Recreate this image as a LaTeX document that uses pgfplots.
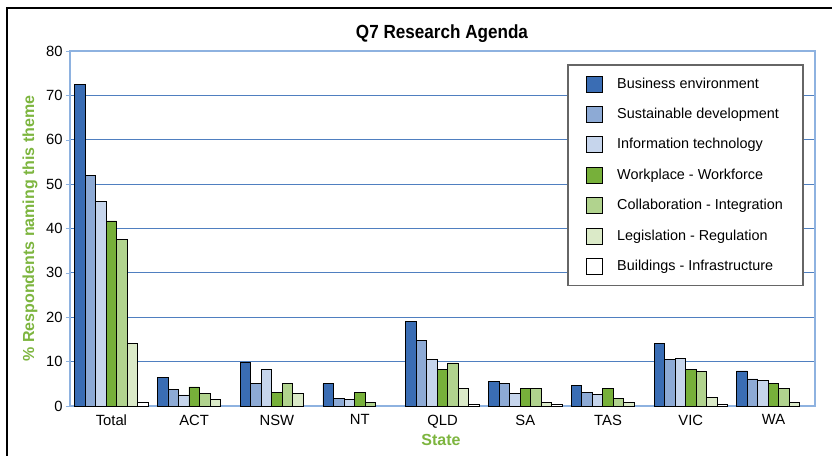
\documentclass[border=0pt]{standalone}
\usepackage{pgfplots}
\pgfplotsset{compat=1.18}
\usepackage{fontspec}
\setmainfont{Liberation Sans}
\newfontfamily\titlefont{Liberation Sans}[FakeStretch=0.9]
\definecolor{c1}{HTML}{3A6DB4}
\definecolor{c2}{HTML}{8DAAD5}
\definecolor{c3}{HTML}{C6D5EC}
\definecolor{c4}{HTML}{77B03A}
\definecolor{c5}{HTML}{B1D38E}
\definecolor{c6}{HTML}{DBEAC8}
\definecolor{c7}{HTML}{FFFFFF}
\definecolor{gridblue}{HTML}{4F7FC0}
\definecolor{axlight}{HTML}{8EB2E0}
\definecolor{labgreen}{HTML}{7DB53F}
\begin{document}
\begin{tikzpicture}
\useasboundingbox (0pt,0pt) rectangle (416pt,228pt);
\draw[line width=1pt] (3.5pt,-2pt) -- (3.5pt,224pt) -- (418pt,224pt);
\node[font=\titlefont\bfseries\fontsize{9.5}{11}\selectfont] at (221pt,211pt) {Q7 Research Agenda};
\begin{axis}[
  at={(35pt,25pt)}, anchor=south west,
  scale only axis, width=372.5pt, height=177.5pt,
  ybar=0pt, bar width=5.25pt,
  xmin=-0.5, xmax=8.5, ymin=0, ymax=80,
  xtick={0,...,8},
  xticklabels={Total,ACT,NSW,NT,QLD,SA,TAS,VIC,WA},
  ytick={0,10,...,80},
  ymajorgrids, grid style={gridblue, line width=0.6pt},
  axis line style={axlight, line width=0.8pt},
  major x tick style={draw=none},
  major y tick style={axlight},
  tick align=outside, major tick length=2pt,
  xtick pos=bottom, ytick pos=left,
  tick label style={font=\fontsize{7.4}{8}\selectfont},
  yticklabel style={xshift=1.8pt},
  xticklabel style={yshift=1.2pt},
  /pgf/number format/assume math mode=true,
  ylabel={\% Respondents naming this theme},
  xlabel={State},
  label style={font=\bfseries\fontsize{8}{9}\selectfont, text=labgreen},
  ylabel style={at={(axis description cs:-0.0537,0.5)}, anchor=center},
  xlabel style={at={(axis description cs:0.498,-0.096)}, anchor=center},
  every bar/.style={draw=black, line width=0.5pt},
  legend image code/.code={\draw[#1,draw=black,line width=0.5pt] (0pt,-4pt) rectangle (8pt,4pt);},
  legend cell align=left,
  legend style={at={(0.985,0.963)}, anchor=north east, draw=black!60, line width=0.9pt,
    font=\fontsize{7.2}{8}\selectfont, row sep=5.2pt, column sep=6pt,
    inner xsep=9pt, inner ysep=4.5pt,
    nodes={inner sep=1pt, text height=6pt, text depth=2pt}},
]
\addplot[fill=c1, draw=black] coordinates {(0,72.5) (1,6.4) (2,9.9) (3,5.0) (4,19.1) (5,5.5) (6,4.6) (7,14.0) (8,7.9)};
\addplot[fill=c2, draw=black] coordinates {(0,51.9) (1,3.8) (2,5.0) (3,1.8) (4,14.8) (5,5.1) (6,3.1) (7,10.4) (8,6.1)};
\addplot[fill=c3, draw=black] coordinates {(0,46.0) (1,2.5) (2,8.2) (3,1.4) (4,10.5) (5,2.8) (6,2.6) (7,10.7) (8,5.8)};
\addplot[fill=c4, draw=black] coordinates {(0,41.7) (1,4.3) (2,3.1) (3,3.0) (4,8.3) (5,3.9) (6,4.0) (7,8.3) (8,5.1)};
\addplot[fill=c5, draw=black] coordinates {(0,37.6) (1,2.8) (2,5.0) (3,0.7) (4,9.7) (5,4.0) (6,1.8) (7,7.8) (8,4.0)};
\addplot[fill=c6, draw=black] coordinates {(0,14.0) (1,1.5) (2,2.8) (4,4.0) (5,0.7) (6,0.8) (7,1.9) (8,0.8)};
\addplot[fill=c7, draw=black] coordinates {(0,0.9) (4,0.3) (5,0.3) (7,0.4)};
\legend{Business environment, Sustainable development, Information technology, Workplace - Workforce, Collaboration - Integration, Legislation - Regulation, Buildings - Infrastructure}
\end{axis}
\end{tikzpicture}
\end{document}
